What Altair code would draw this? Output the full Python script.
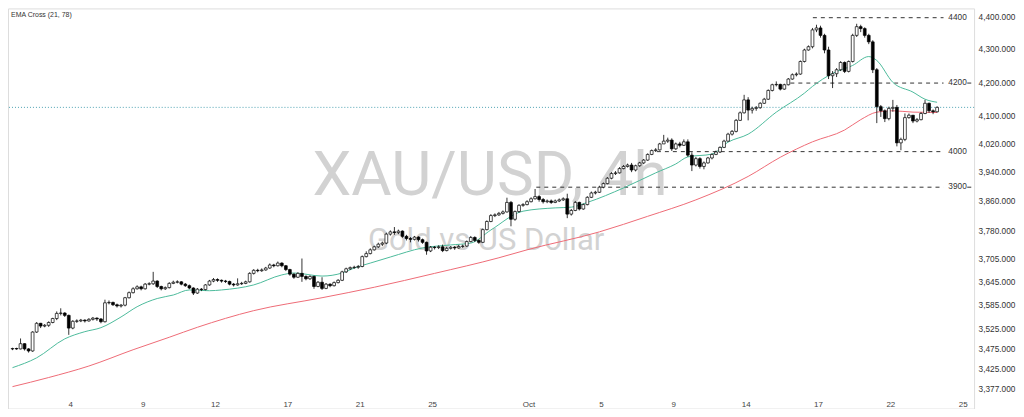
import altair as alt
import pandas as pd

# ---------------- data ----------------
first_open = 3476
closes = [3477, 3476, 3489, 3476, 3471, 3518, 3540, 3533, 3535, 3542,
          3552, 3565, 3566, 3560, 3528, 3545, 3546, 3548, 3546, 3550,
          3553, 3551, 3544, 3592, 3593, 3587, 3584, 3586, 3605, 3618,
          3628, 3633, 3628, 3640, 3641, 3648, 3634, 3628, 3631, 3642,
          3645, 3646, 3640, 3636, 3630, 3617, 3627, 3626, 3638, 3648,
          3652, 3650, 3648, 3647, 3640, 3638, 3641, 3642, 3646, 3668,
          3676, 3675, 3677, 3682, 3690, 3688, 3695, 3688, 3678, 3666,
          3658, 3668, 3660, 3654, 3660, 3634, 3645, 3629, 3640, 3636,
          3644, 3650, 3672, 3680, 3683, 3684, 3686, 3712, 3720, 3730,
          3738, 3745, 3748, 3772, 3778, 3776, 3780, 3766, 3760, 3758,
          3764, 3757, 3750, 3727, 3737, 3736, 3738, 3728, 3734, 3737,
          3735, 3739, 3740, 3752, 3763, 3755, 3750, 3784, 3806, 3822,
          3824, 3828, 3832, 3858, 3812, 3833, 3850, 3852, 3860, 3868,
          3874, 3866, 3860, 3862, 3858, 3862, 3865, 3868, 3826, 3836,
          3858, 3840, 3852, 3872, 3884, 3886, 3900, 3910, 3925, 3938,
          3940, 3952, 3958, 3962, 3948, 3960, 3968, 3976, 3992, 4003,
          4005, 4022, 4030, 4033, 4008, 4022, 4018, 4028, 3990, 3962,
          3980, 3958, 3968, 3982, 3992, 3999, 4012, 4030, 4050, 4058,
          4090, 4112, 4150, 4120, 4125, 4127, 4140, 4152, 4178, 4195,
          4196, 4182, 4195, 4212, 4225, 4227, 4265, 4300, 4310, 4362,
          4368, 4345, 4300, 4222, 4228, 4240, 4262, 4235, 4265, 4345,
          4372, 4366, 4345, 4325, 4240, 4130, 4118, 4095, 4125, 4128,
          4025, 4035, 4098, 4105, 4088, 4092, 4110, 4140, 4118, 4115,
          4128]
highs = [3479, 3479, 3502, 3490, 3478, 3520, 3543, 3541, 3538, 3545,
         3554, 3570, 3578, 3568, 3562, 3548, 3550, 3551, 3550, 3553,
         3556, 3555, 3553, 3600, 3598, 3595, 3590, 3589, 3607, 3621,
         3632, 3637, 3636, 3643, 3645, 3672, 3650, 3636, 3634, 3645,
         3649, 3650, 3648, 3643, 3639, 3632, 3630, 3630, 3640, 3651,
         3656, 3655, 3652, 3651, 3649, 3643, 3655, 3646, 3649, 3671,
         3679, 3680, 3681, 3685, 3694, 3693, 3699, 3697, 3690, 3680,
         3668, 3671, 3707, 3663, 3663, 3662, 3648, 3658, 3643, 3642,
         3647, 3653, 3675, 3683, 3686, 3688, 3690, 3715, 3726, 3734,
         3741, 3749, 3752, 3776, 3782, 3791, 3784, 3782, 3770, 3764,
         3767, 3766, 3760, 3752, 3740, 3740, 3742, 3744, 3738, 3740,
         3740, 3743, 3744, 3755, 3767, 3766, 3758, 3787, 3809, 3826,
         3828, 3832, 3836, 3871, 3862, 3836, 3853, 3856, 3864, 3872,
         3895, 3878, 3870, 3866, 3866, 3866, 3869, 3872, 3882, 3840,
         3862, 3860, 3855, 3875, 3888, 3890, 3904, 3913, 3928, 3942,
         3945, 3956, 3962, 3966, 3968, 3963, 3971, 3979, 3995, 4006,
         4010, 4025, 4048, 4040, 4038, 4026, 4028, 4035, 4035, 3998,
         3985, 3984, 3972, 3985, 3995, 4003, 4015, 4034, 4054, 4062,
         4094, 4116, 4165, 4158, 4130, 4132, 4143, 4156, 4181, 4198,
         4205, 4198, 4198, 4215, 4229, 4232, 4268, 4304, 4314, 4368,
         4378, 4375, 4350, 4310, 4236, 4245, 4266, 4265, 4268, 4350,
         4381, 4378, 4370, 4350, 4330, 4245, 4135, 4122, 4130, 4150,
         4135, 4040, 4110, 4110, 4105, 4097, 4114, 4150, 4142, 4122,
         4131]
lows = [3473, 3474, 3475, 3472, 3467, 3469, 3516, 3528, 3530, 3531,
        3540, 3548, 3560, 3556, 3511, 3525, 3541, 3543, 3542, 3544,
        3547, 3546, 3540, 3542, 3588, 3584, 3580, 3580, 3583, 3603,
        3616, 3626, 3624, 3626, 3637, 3638, 3630, 3624, 3625, 3629,
        3640, 3642, 3637, 3633, 3627, 3612, 3615, 3622, 3624, 3636,
        3645, 3646, 3644, 3643, 3637, 3634, 3636, 3638, 3640, 3644,
        3665, 3671, 3672, 3675, 3680, 3684, 3686, 3684, 3674, 3662,
        3654, 3656, 3646, 3650, 3651, 3628, 3632, 3625, 3627, 3632,
        3634, 3642, 3648, 3669, 3677, 3680, 3680, 3684, 3710, 3718,
        3728, 3735, 3740, 3745, 3768, 3770, 3772, 3762, 3755, 3750,
        3755, 3752, 3746, 3717, 3724, 3731, 3732, 3724, 3726, 3731,
        3730, 3733, 3735, 3738, 3750, 3751, 3746, 3748, 3782, 3804,
        3818, 3821, 3825, 3830, 3793, 3808, 3830, 3846, 3850, 3858,
        3866, 3860, 3855, 3856, 3854, 3856, 3859, 3862, 3815, 3822,
        3834, 3836, 3838, 3850, 3870, 3880, 3884, 3897, 3908, 3922,
        3934, 3938, 3950, 3955, 3942, 3944, 3957, 3965, 3974, 3990,
        3999, 4003, 4022, 4025, 4002, 4005, 4012, 4016, 3985, 3945,
        3958, 3952, 3950, 3966, 3978, 3990, 3996, 4010, 4028, 4046,
        4055, 4088, 4110, 4090, 4110, 4118, 4124, 4138, 4150, 4175,
        4190, 4178, 4180, 4193, 4210, 4220, 4225, 4262, 4298, 4305,
        4355, 4338, 4290, 4212, 4185, 4218, 4236, 4230, 4232, 4262,
        4340, 4355, 4338, 4318, 4230, 4082, 4100, 4085, 4090, 4115,
        4015, 4004, 4030, 4095, 4082, 4084, 4090, 4108, 4112, 4108,
        4113]

ema21_idx = [0, 6, 13, 18, 22, 27, 31, 36, 40, 44, 49, 52, 60, 67, 70, 77,
             82, 85, 89, 94, 102, 109, 114, 119, 127, 135, 139, 143, 152,
             160, 165, 168, 174, 178, 183, 190, 197, 199, 204, 209, 213,
             215, 219, 224, 227, 230]
ema21 = [3430, 3454, 3501, 3519, 3529, 3556, 3582, 3603, 3612, 3625, 3623,
         3625, 3638, 3664, 3669, 3661, 3669, 3682, 3695, 3711, 3735, 3743,
         3748, 3783, 3834, 3843, 3845, 3858, 3898, 3940, 3965, 3985, 3993,
         4027, 4050, 4114, 4170, 4190, 4229, 4253, 4280, 4268, 4202, 4173,
         4152, 4143]

ema78_idx = [0, 9, 19, 30, 39, 46, 60, 77, 90, 105, 121, 128, 146, 158,
             170, 183, 191, 199, 207, 211, 215, 219, 224, 230]
ema78 = [3384, 3406, 3434, 3474, 3505, 3530, 3572, 3605, 3632, 3668, 3709,
         3730, 3778, 3820, 3865, 3930, 3984, 4028, 4062, 4092, 4114, 4118,
         4114, 4113]

level_values = [4400, 4200, 4000, 3900]
level_labels = ["4400", "4200", "4000", "3900"]
level_start = [199.1, 193.5, 160.3, 130.3]
level_end = 231.6
label_at = 232.8
tail_levels = [4200, 3900]
tail_span = [237.5, 238.5]

last_price = 4128

date_labels = ["4", "9", "12", "17", "21", "25", "Oct", "5", "9", "14",
               "17", "22", "25"]
date_pos = [14.5, 32.5, 50.5, 68.5, 86.5, 104.5, 128.5, 146.5, 164.5,
            182.5, 200.5, 218.5, 236.5]

price_ticks = [3377, 3425, 3475, 3525, 3585, 3645, 3705, 3780, 3860, 3940,
               4020, 4100, 4200, 4300, 4400]

# ---------------- tables ----------------
opens = [first_open] + closes[:-1]
candles = pd.DataFrame({"i": list(range(len(closes))), "open": opens,
                        "high": highs, "low": lows, "close": closes})
e21 = pd.DataFrame({"i": ema21_idx, "v": ema21})
e78 = pd.DataFrame({"i": ema78_idx, "v": ema78})
levels = pd.DataFrame({"level": level_values, "label": level_labels,
                       "start": level_start,
                       "end": [level_end] * len(level_values),
                       "lx": [label_at] * len(level_values)})
tails = pd.DataFrame({"level": tail_levels,
                      "start": [tail_span[0]] * len(tail_levels),
                      "end": [tail_span[1]] * len(tail_levels)})
dates = pd.DataFrame({"pos": date_pos, "label": date_labels})

W, H = 968, 401
xs = alt.Scale(domain=[0.1229, 237.961], nice=False, zero=False)
ys = alt.Scale(type="log", domain=[3331.5, 4429.2], nice=False, zero=False)

yaxis = alt.Axis(orient="right", values=price_ticks, format=",.3f",
                 labelFontSize=8.3, labelColor="#333333",
                 labelFont="Liberation Sans", domain=False, ticks=False,
                 grid=False, labelPadding=4, title=None, labelOverlap=False,
                 labelAlign="left", labelBaseline="middle")


def X(f):
    return alt.X(f, type="quantitative", scale=xs, axis=None)


def Y(f):
    return alt.Y(f, type="quantitative", scale=ys, axis=yaxis)


wm1 = alt.Chart(pd.DataFrame({"t": ["XAU/USD, 4h"]})).mark_text(
    font="Roboto", fontSize=62, color="#d2d2d2", align="center",
    baseline="alphabetic").encode(text="t:N", x=alt.value(483), y=alt.value(187))
wm2 = alt.Chart(pd.DataFrame({"t": ["Gold vs US Dollar"]})).mark_text(
    font="Roboto", fontSize=31, color="#d2d2d2", align="center",
    baseline="alphabetic").encode(text="t:N", x=alt.value(479), y=alt.value(242))

price_line = alt.Chart(pd.DataFrame({"p": [last_price]})).mark_rule(
    color="#4fa3b3", strokeDash=[1, 2], strokeWidth=1).encode(y=Y("p"))

lvl_rules = alt.Chart(levels).mark_rule(
    color="#333333", strokeDash=[4, 4], strokeWidth=1).encode(
    x=X("start"), x2="end", y=Y("level"))
lvl_tails = alt.Chart(tails).mark_rule(
    color="#333333", strokeWidth=1).encode(x=X("start"), x2="end", y=Y("level"))
lvl_text = alt.Chart(levels).mark_text(
    align="left", baseline="middle", fontSize=8.3, color="#333333",
    font="Liberation Sans").encode(x=X("lx"), y=Y("level"), text="label:N")

l78 = alt.Chart(e78).mark_line(color="#ee6b76", strokeWidth=1,
                               interpolate="monotone").encode(x=X("i"), y=Y("v"))
l21 = alt.Chart(e21).mark_line(color="#4dbb9c", strokeWidth=1,
                               interpolate="monotone").encode(x=X("i"), y=Y("v"))

wicks = alt.Chart(candles).mark_rule(color="#000000", strokeWidth=0.8).encode(
    x=X("i"), y=Y("low"), y2="high")
bodies = alt.Chart(candles).mark_bar(size=2.8, stroke="#000000",
                                     strokeWidth=0.7).encode(
    x=X("i"), y=Y("open"), y2="close",
    fill=alt.condition(alt.datum.close >= alt.datum.open,
                       alt.value("#ffffff"), alt.value("#000000")))

date_text = alt.Chart(dates).mark_text(
    fontSize=8, color="#444444", font="Liberation Sans", baseline="middle",
    align="center").encode(x=X("pos"), y=alt.value(397), text="label:N")

title = alt.Chart(pd.DataFrame({"t": ["EMA Cross (21, 78)"]})).mark_text(
    fontSize=7, color="#333333", font="Liberation Sans", align="left",
    baseline="middle").encode(text="t:N", x=alt.value(3), y=alt.value(7))

chart = alt.layer(
    wm1, wm2, price_line, lvl_rules, lvl_tails, lvl_text, l78, l21,
    wicks, bodies, date_text, title
).properties(
    width=W, height=H,
    autosize=alt.AutoSizeParams(type="none"),
    padding={"left": 0, "top": 0, "right": 42, "bottom": 0},
).configure_view(strokeWidth=0).configure(background="white")

chart.save("out.html", embed_options={"renderer": "svg", "actions": False})
